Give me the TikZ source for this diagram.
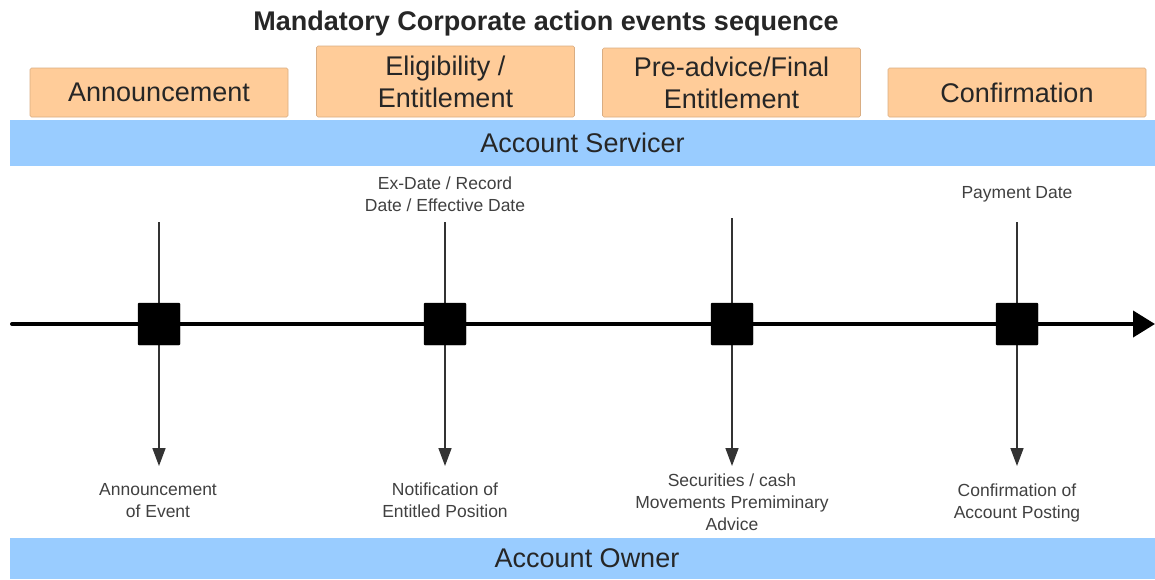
\documentclass[tikz,border=0pt]{standalone}
\usepackage{fontspec}
\setmainfont{Liberation Sans}
\usetikzlibrary{arrows.meta}
\definecolor{phasefill}{HTML}{FFCC99}
\definecolor{barfill}{HTML}{99CCFF}
\tikzset{
  phase/.style={fill=phasefill, draw=phasefill!85!black, line width=0.6pt, rounded corners=1.5pt,
    minimum width=258pt, inner sep=0pt, align=center, text=black!85,
    font=\fontsize{27}{32}\selectfont},
  party/.style={fill=barfill, minimum width=1145pt, inner sep=0pt, text=black!85,
    font=\fontsize{27}{32}\selectfont},
  event/.style={fill=black, draw=black, minimum size=42pt, inner sep=0pt, rounded corners=1pt},
  note/.style={align=center, text=black!75, inner sep=0pt, font=\fontsize{17.5}{22}\selectfont},
  tick/.style={draw=black!80, line width=1.6pt, -{Triangle[length=18pt,width=13pt]}},
}
\begin{document}
\begin{tikzpicture}[x=1pt, y=-1pt]
  \useasboundingbox (0,0) rectangle (1155,579);
  % title and phases
  \node[font=\bfseries\fontsize{27}{32}\selectfont, text=black!85] (title) at (546,24) {Mandatory Corporate action events sequence};
  \node[phase, minimum height=49pt] (announce) at (159,92.5) {Announcement};
  \node[phase, minimum height=71pt] (eligible) at (445.5,81.5) {Eligibility /\\Entitlement};
  \node[phase, minimum height=69pt] (preadvice) at (731.5,82.5) {Pre-advice/Final\\Entitlement};
  \node[phase, minimum height=49pt] (confirm) at (1017,92.5) {Confirmation};
  \node[party, minimum height=46pt] (servicer) at (582.5,143) {Account Servicer};
  \node[party, minimum height=41pt] (owner) at (582.5,558.5) {\hspace{9pt}Account Owner};
  % dates above the line
  \node[note] (exdate) at (445,194) {Ex-Date / Record\\Date / Effective Date};
  \node[note] (paydate) at (1017,194) {Payment Date};
  % messages below the line
  \node[note] (msgA) at (158,500.5) {Announcement\\of Event};
  \node[note] (msgB) at (445,500.5) {Notification of\\Entitled Position};
  \node[note] (msgC) at (732,502.5) {Securities / cash\\Movements Premiminary\\Advice};
  \node[note] (msgD) at (1017,503) {Confirmation of\\Account Posting};
  % vertical flows
  \coordinate (top1) at (159,222);
  \coordinate (top2) at (445,222);
  \coordinate (top3) at (732,218);
  \coordinate (top4) at (1017,222);
  \coordinate (end1) at (159,466);
  \coordinate (end2) at (445,466);
  \coordinate (end3) at (732,466);
  \coordinate (end4) at (1017,466);
  \draw[tick] (top1) -- (end1);
  \draw[tick] (top2) -- (end2);
  \draw[tick] (top3) -- (end3);
  \draw[tick] (top4) -- (end4);
  % time line
  \coordinate (start) at (12,324);
  \coordinate (stop) at (1155,324);
  \draw[line width=4pt, line cap=round, -{Triangle[length=22pt,width=26pt]}] (start) -- (stop);
  \node[event] (ev1) at (159,324) {};
  \node[event] (ev2) at (445,324) {};
  \node[event] (ev3) at (732,324) {};
  \node[event] (ev4) at (1017,324) {};
\end{tikzpicture}
\end{document}
